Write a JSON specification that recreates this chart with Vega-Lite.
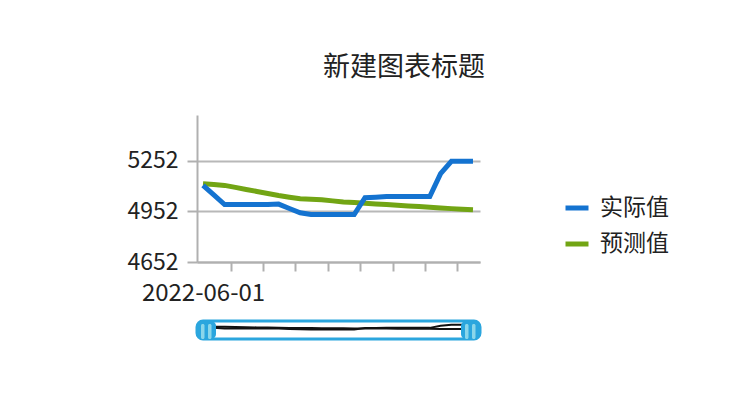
{
  "$schema": "https://vega.github.io/schema/vega-lite/v6.json",
  "padding": {"left": 126, "top": 54, "right": 5, "bottom": 5},
  "title": {"text": "新建图表标题", "fontSize": 27, "font": "Noto Sans CJK SC", "fontWeight": "normal", "color": "#222222", "anchor": "middle", "offset": 33, "dx": 6},
  "datasets": {
    "main": [
      {"date": "2022-06-01T00:00:00", "series": "实际值", "value": 5107},
      {"date": "2022-06-02T00:00:00", "series": "实际值", "value": 5050},
      {"date": "2022-06-03T00:00:00", "series": "实际值", "value": 4993},
      {"date": "2022-06-04T00:00:00", "series": "实际值", "value": 4993},
      {"date": "2022-06-05T00:00:00", "series": "实际值", "value": 4993},
      {"date": "2022-06-06T00:00:00", "series": "实际值", "value": 4993},
      {"date": "2022-06-07T00:00:00", "series": "实际值", "value": 4993},
      {"date": "2022-06-08T00:00:00", "series": "实际值", "value": 4996},
      {"date": "2022-06-09T00:00:00", "series": "实际值", "value": 4970},
      {"date": "2022-06-10T00:00:00", "series": "实际值", "value": 4944},
      {"date": "2022-06-11T00:00:00", "series": "实际值", "value": 4934},
      {"date": "2022-06-12T00:00:00", "series": "实际值", "value": 4934},
      {"date": "2022-06-13T00:00:00", "series": "实际值", "value": 4934},
      {"date": "2022-06-14T00:00:00", "series": "实际值", "value": 4934},
      {"date": "2022-06-15T00:00:00", "series": "实际值", "value": 4934},
      {"date": "2022-06-16T00:00:00", "series": "实际值", "value": 5034},
      {"date": "2022-06-17T00:00:00", "series": "实际值", "value": 5037},
      {"date": "2022-06-18T00:00:00", "series": "实际值", "value": 5041},
      {"date": "2022-06-19T00:00:00", "series": "实际值", "value": 5041},
      {"date": "2022-06-20T00:00:00", "series": "实际值", "value": 5041},
      {"date": "2022-06-21T00:00:00", "series": "实际值", "value": 5041},
      {"date": "2022-06-22T00:00:00", "series": "实际值", "value": 5041},
      {"date": "2022-06-23T00:00:00", "series": "实际值", "value": 5177},
      {"date": "2022-06-24T00:00:00", "series": "实际值", "value": 5250},
      {"date": "2022-06-25T00:00:00", "series": "实际值", "value": 5250},
      {"date": "2022-06-26T00:00:00", "series": "实际值", "value": 5250},
      {"date": "2022-06-01T00:00:00", "series": "预测值", "value": 5117},
      {"date": "2022-06-02T00:00:00", "series": "预测值", "value": 5112},
      {"date": "2022-06-03T00:00:00", "series": "预测值", "value": 5107},
      {"date": "2022-06-04T00:00:00", "series": "预测值", "value": 5095},
      {"date": "2022-06-05T00:00:00", "series": "预测值", "value": 5083},
      {"date": "2022-06-06T00:00:00", "series": "预测值", "value": 5071},
      {"date": "2022-06-07T00:00:00", "series": "预测值", "value": 5059},
      {"date": "2022-06-08T00:00:00", "series": "预测值", "value": 5047},
      {"date": "2022-06-09T00:00:00", "series": "预测值", "value": 5037},
      {"date": "2022-06-10T00:00:00", "series": "预测值", "value": 5028},
      {"date": "2022-06-11T00:00:00", "series": "预测值", "value": 5025},
      {"date": "2022-06-12T00:00:00", "series": "预测值", "value": 5022},
      {"date": "2022-06-13T00:00:00", "series": "预测值", "value": 5015},
      {"date": "2022-06-14T00:00:00", "series": "预测值", "value": 5008},
      {"date": "2022-06-15T00:00:00", "series": "预测值", "value": 5005},
      {"date": "2022-06-16T00:00:00", "series": "预测值", "value": 5001},
      {"date": "2022-06-17T00:00:00", "series": "预测值", "value": 4997},
      {"date": "2022-06-18T00:00:00", "series": "预测值", "value": 4993},
      {"date": "2022-06-19T00:00:00", "series": "预测值", "value": 4989},
      {"date": "2022-06-20T00:00:00", "series": "预测值", "value": 4985},
      {"date": "2022-06-21T00:00:00", "series": "预测值", "value": 4981},
      {"date": "2022-06-22T00:00:00", "series": "预测值", "value": 4977},
      {"date": "2022-06-23T00:00:00", "series": "预测值", "value": 4973},
      {"date": "2022-06-24T00:00:00", "series": "预测值", "value": 4969},
      {"date": "2022-06-25T00:00:00", "series": "预测值", "value": 4965},
      {"date": "2022-06-26T00:00:00", "series": "预测值", "value": 4962}
    ],
    "window": [
      {"start": "2022-05-31T10:40:00", "end": "2022-06-26T15:36:00"}
    ]
  },
  "spacing": 14,
  "vconcat": [
    {
      "width": 283,
      "height": 147,
      "data": {"name": "main"},
      "encoding": {
        "x": {
          "field": "date", "type": "temporal",
          "scale": {"domain": [
            {"year": 2022, "month": 5, "date": 31, "hours": 10, "minutes": 40},
            {"year": 2022, "month": 6, "date": 26, "hours": 15, "minutes": 36}
          ]},
          "axis": {
            "title": null,
            "grid": false,
            "values": [
              {"year": 2022, "month": 6, "date": 1},
              {"year": 2022, "month": 6, "date": 3, "hours": 13, "minutes": 12},
              {"year": 2022, "month": 6, "date": 6, "hours": 13, "minutes": 12},
              {"year": 2022, "month": 6, "date": 9, "hours": 13, "minutes": 12},
              {"year": 2022, "month": 6, "date": 12, "hours": 13, "minutes": 12},
              {"year": 2022, "month": 6, "date": 15, "hours": 13, "minutes": 12},
              {"year": 2022, "month": 6, "date": 18, "hours": 13, "minutes": 12},
              {"year": 2022, "month": 6, "date": 21, "hours": 13, "minutes": 12},
              {"year": 2022, "month": 6, "date": 24, "hours": 13, "minutes": 12}
            ],
            "labelExpr": "hours(datum.value) == 0 ? timeFormat(datum.value, '%Y-%m-%d') : ''",
            "tickOpacity": {"condition": {"test": "hours(datum.value) == 0", "value": 0}, "value": 1},
            "labelFlush": false,
            "labelOverlap": false,
            "labelBound": false,
            "domainColor": "#b0b0b0",
            "domainWidth": 2,
            "tickColor": "#b0b0b0",
            "tickWidth": 2,
            "tickSize": 9,
            "labelPadding": 10,
            "labelFontSize": 24,
            "labelFont": "Noto Sans CJK SC",
            "labelColor": "#222222"
          }
        },
        "y": {
          "field": "value", "type": "quantitative",
          "scale": {"domain": [4652, 5525], "zero": false, "nice": false},
          "axis": {
            "title": null,
            "values": [4652, 4952, 5252],
            "format": "d",
            "grid": true,
            "gridColor": "#b8b8b8",
            "gridWidth": 2,
            "domainColor": "#b0b0b0",
            "domainWidth": 2,
            "tickColor": "#b0b0b0",
            "tickWidth": 2,
            "tickSize": 10,
            "labelPadding": 9,
            "labelFontSize": 23,
            "labelFont": "Noto Sans CJK SC",
            "labelColor": "#222222"
          }
        },
        "color": {
          "field": "series", "type": "nominal",
          "scale": {"domain": ["实际值", "预测值"], "range": ["#1473d0", "#72a514"]},
          "legend": {
            "title": null,
            "orient": "none",
            "legendX": 366,
            "legendY": 79,
            "symbolType": "stroke",
            "symbolStrokeWidth": 5,
            "symbolSize": 529,
            "labelFontSize": 23,
            "labelFont": "Noto Sans CJK SC",
            "labelColor": "#222222",
            "labelOffset": 9,
            "rowPadding": 10
          }
        }
      },
      "layer": [
        {
          "transform": [{"filter": "datum.series == '预测值'"}],
          "mark": {"type": "line", "strokeWidth": 5}
        },
        {
          "transform": [{"filter": "datum.series == '实际值'"}],
          "mark": {"type": "line", "strokeWidth": 5}
        }
      ]
    },
    {
      "width": 283,
      "height": 18,
      "layer": [
        {
          "data": {"name": "window"},
          "mark": {"type": "rect", "fill": "#ffffff", "stroke": "#2ba6de", "strokeWidth": 3, "cornerRadius": 6},
          "encoding": {
            "x": {"field": "start", "type": "temporal", "scale": {"domain": [
              {"year": 2022, "month": 5, "date": 31, "hours": 10, "minutes": 40},
              {"year": 2022, "month": 6, "date": 26, "hours": 15, "minutes": 36}
            ]}, "axis": null},
            "x2": {"field": "end"}
          }
        },
        {
          "data": {"name": "main"},
          "mark": {"type": "line", "strokeWidth": 2, "color": "#111111"},
          "encoding": {
            "x": {"field": "date", "type": "temporal", "axis": null},
            "y": {"field": "value", "type": "quantitative", "scale": {"domain": [4304, 5495], "zero": false, "nice": false}, "axis": null},
            "detail": {"field": "series"}
          }
        },
        {
          "data": {"name": "window"},
          "mark": {"type": "rect", "fill": "#2ba6de", "cornerRadius": 5, "x2Offset": 19},
          "encoding": {
            "x": {"field": "start", "type": "temporal", "axis": null},
            "x2": {"field": "start"}
          }
        },
        {
          "data": {"name": "window"},
          "mark": {"type": "rect", "fill": "#2ba6de", "cornerRadius": 5, "xOffset": -19},
          "encoding": {
            "x": {"field": "end", "type": "temporal", "axis": null},
            "x2": {"field": "end"}
          }
        },
        {
          "data": {"name": "window"},
          "mark": {"type": "rect", "fill": "#8bd6ea", "cornerRadius": 1.5, "xOffset": 4, "x2Offset": 7.5, "yOffset": 3, "y2Offset": -4},
          "encoding": {
            "x": {"field": "start", "type": "temporal", "axis": null},
            "x2": {"field": "start"}
          }
        },
        {
          "data": {"name": "window"},
          "mark": {"type": "rect", "fill": "#8bd6ea", "cornerRadius": 1.5, "xOffset": 11, "x2Offset": 14.5, "yOffset": 3, "y2Offset": -4},
          "encoding": {
            "x": {"field": "start", "type": "temporal", "axis": null},
            "x2": {"field": "start"}
          }
        },
        {
          "data": {"name": "window"},
          "mark": {"type": "rect", "fill": "#8bd6ea", "cornerRadius": 1.5, "xOffset": -15, "x2Offset": -11.5, "yOffset": 3, "y2Offset": -4},
          "encoding": {
            "x": {"field": "end", "type": "temporal", "axis": null},
            "x2": {"field": "end"}
          }
        },
        {
          "data": {"name": "window"},
          "mark": {"type": "rect", "fill": "#8bd6ea", "cornerRadius": 1.5, "xOffset": -8, "x2Offset": -4.5, "yOffset": 3, "y2Offset": -4},
          "encoding": {
            "x": {"field": "end", "type": "temporal", "axis": null},
            "x2": {"field": "end"}
          }
        }
      ],
      "resolve": {"scale": {"y": "independent"}}
    }
  ],
  "resolve": {"scale": {"y": "independent"}},
  "config": {
    "view": {"stroke": null},
    "font": "Noto Sans CJK SC"
  }
}
